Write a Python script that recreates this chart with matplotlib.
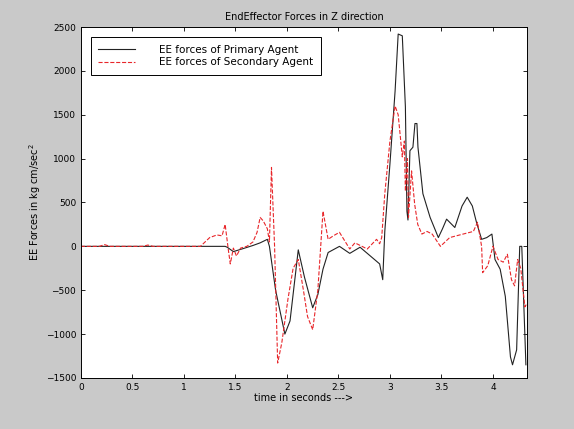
#Import
import numpy as np
import matplotlib.pyplot as plt

#Daten: Zeit (s) und Kraft, Primary Agent
t_primary = [0.0, 1.40, 1.42, 1.48, 1.59, 1.67, 1.74, 1.81, 1.83, 1.89, 1.98, 2.03,
             2.11, 2.17, 2.25, 2.30, 2.35, 2.40, 2.51, 2.61, 2.71, 2.81, 2.90, 2.93,
             2.95, 3.00, 3.05, 3.08, 3.12, 3.15, 3.165, 3.175, 3.194, 3.223, 3.243,
             3.262, 3.272, 3.32, 3.39, 3.47, 3.51, 3.55, 3.63, 3.70, 3.75, 3.80, 3.84,
             3.89, 3.94, 3.99, 4.02, 4.07, 4.12, 4.17, 4.19, 4.23, 4.26, 4.28, 4.32]
f_primary = [0, 0, -10, -60, -20, 10, 40, 80, 0, -500, -1000, -850,
             -40, -350, -700, -550, -260, -70, 0, -80, -10, -110, -200, -380,
             170, 940, 1770, 2420, 2400, 1590, 400, 300, 1090, 1130, 1400,
             1400, 1130, 600, 330, 100, 200, 310, 215, 460, 560, 460, 275,
             80, 100, 140, -150, -260, -570, -1260, -1350, -1180, 0, 0, -1350]

#Daten: Secondary Agent
t_secondary = [0.0, 0.18, 0.23, 0.28, 0.60, 0.65, 0.70, 1.16, 1.25, 1.32, 1.37, 1.40,
               1.43, 1.45, 1.48, 1.51, 1.55, 1.61, 1.67, 1.71, 1.74, 1.77, 1.81, 1.83,
               1.85, 1.88, 1.91, 1.95, 2.01, 2.06, 2.11, 2.16, 2.20, 2.25, 2.30, 2.35,
               2.40, 2.45, 2.51, 2.61, 2.66, 2.78, 2.87, 2.90, 2.92, 2.95, 3.00, 3.05,
               3.08, 3.12, 3.14, 3.15, 3.17, 3.18, 3.21, 3.24, 3.27, 3.31, 3.36, 3.41,
               3.49, 3.58, 3.71, 3.81, 3.85, 3.89, 3.90, 3.95, 4.00, 4.05, 4.10, 4.14,
               4.18, 4.21, 4.24, 4.27, 4.31, 4.33]
f_secondary = [0, 0, 20, 0, 0, 15, 0, 0, 100, 130, 120, 250,
               -30, -200, -20, -110, -20, 0, 50, 160, 330, 290, 200, 50,
               900, 0, -1330, -1100, -600, -250, -150, -500, -800, -950, -500, 400,
               80, 120, 160, -30, 40, -30, 80, 30, 100, 600, 1200, 1600,
               1500, 1020, 1200, 630, 1000, 330, 860, 480, 250, 140, 170, 140,
               0, 100, 140, 170, 275, 0, -300, -220, 0, -150, -180, -90,
               -380, -450, -150, -250, -690, -650]

x_ticks = [0, 0.5, 1, 1.5, 2, 2.5, 3, 3.5, 4]
x_tick_labels = ["0", "0.5", "1", "1.5", "2", "2.5", "3", "3.5", "4"]
y_ticks = [-1500, -1000, -500, 0, 500, 1000, 1500, 2000, 2500]

#Diagramm
fig = plt.figure(figsize=(5.74, 4.29), dpi=100, facecolor="#c9c9c9")
ax = fig.add_axes([0.141, 0.119, 0.777, 0.818])
ax.set_facecolor("white")

ax.plot(t_primary, f_primary, "-", color="#222222", lw=0.8,
        label="EE forces of Primary Agent")
ax.plot(t_secondary, f_secondary, "--", color="#e8262a", lw=0.8,
        label="EE forces of Secondary Agent")

ax.set_xlim(0, 4.33)
ax.set_ylim(-1500, 2500)
ax.set_xticks(x_ticks)
ax.set_xticklabels(x_tick_labels)
ax.set_yticks(y_ticks)
ax.tick_params(direction="in", top=True, right=True, labelsize=6.5, length=3, width=0.6)
for s in ax.spines.values():
    s.set_linewidth(0.7)

ax.set_title("EndEffector Forces in Z direction", fontsize=7, pad=5)
ax.set_xlabel("time in seconds --->", fontsize=7, labelpad=1)
ax.set_ylabel("EE Forces in kg cm/sec$^2$", fontsize=7, labelpad=2)

leg = ax.legend(loc="upper left", prop={"size": 7.5}, handlelength=3.6, handletextpad=2.3,
                labelspacing=0.25, borderpad=0.7, fancybox=False, framealpha=1,
                bbox_to_anchor=(0.01, 0.985))
leg.get_frame().set_edgecolor("black")
leg.get_frame().set_linewidth(0.7)

plt.savefig("out.png", dpi=100, facecolor=fig.get_facecolor())
